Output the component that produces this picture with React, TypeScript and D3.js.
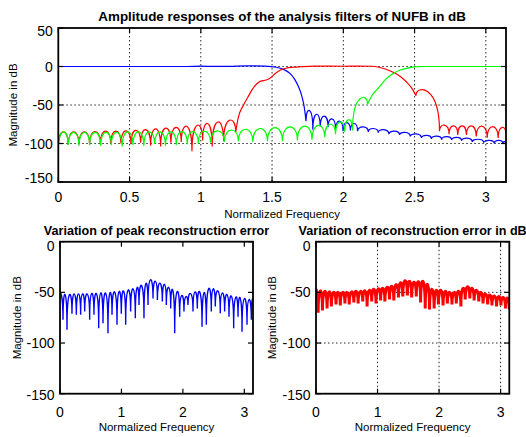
import * as d3 from "d3";

const PI = Math.PI;

// tick values
const topXTicks = [0, 0.5, 1, 1.5, 2, 2.5, 3];
const topYTicks = [50, 0, -50, -100, -150];
const lowXTicks = [0, 1, 2, 3];
const lowYTicks = [0, -50, -100, -150];

// green filter: stopband lobes (nulls + lobe tops), then passband
const greenStopF = [0, 0.07, 0.145, 0.22, 0.297, 0.372, 0.448, 0.524, 0.6, 0.676, 0.752, 0.828, 0.905, 0.982, 1.068, 1.165, 1.264, 1.365, 1.468, 1.573, 1.678, 1.78, 1.87, 1.945, 2.01, 2.065, 2.17];
const greenStopDb = [-105, -102, -103, -102, -103, -102, -104, -102, -103, -101, -103, -102, -101, -100, -99, -98, -97, -98, -97, -97, -96, -95, -92, -88, -85, -83, -49];
const greenStopTop = [-85, -85.5, -85.5, -85.5, -85.5, -85.5, -85, -85, -85, -85, -85, -84.5, -84.5, -84, -83.5, -82.5, -81.5, -80.5, -79.5, -78.5, -77.5, -76.5, -75, -72, -69, -40];
const greenPassF = [2.17, 2.2, 2.25, 2.3, 2.35, 2.4, 2.45, 2.5, 2.56, 2.8, PI];
const greenPassDb = [-49, -38, -27, -16, -9, -4.5, -2, -0.6, 0, 0, 0];

// red filter: lower stopband, passband, upper stopband
const redStopF = [0, 0.07, 0.145, 0.22, 0.295, 0.368, 0.44, 0.51, 0.578, 0.648, 0.718, 0.79, 0.863, 0.938, 1.013, 1.08, 1.16, 1.245];
const redStopDb = [-105, -102, -101, -101, -100, -100, -100, -101, -99, -103, -104, -99, -98, -110, -96, -104, -97, -85];
const redStopTop = [-85, -85, -85, -84.5, -84, -84, -83.5, -83, -82, -81, -80, -79, -77.5, -76, -74, -72, -69.5];
const redBandF = [1.245, 1.262, 1.3, 1.33, 1.36, 1.39, 1.42, 1.46, 1.49, 1.52, 1.56, 1.6, 1.65, 1.7, 1.8, 1.9, 2.0, 2.1, 2.2, 2.25, 2.3, 2.35, 2.4, 2.44, 2.48, 2.51];
const redBandDb = [-85, -67, -50, -40, -30, -23, -19, -17.5, -14.5, -9.5, -4.5, -2.2, -1, -0.3, 0.6, 0.4, 0.3, 0.6, 0.3, -1, -3.5, -7.5, -13, -19.5, -28, -38];
const redTailF = [2.51, 2.675, 2.742, 2.803, 2.864, 2.933, 3.01, 3.087, PI];
const redTailDb = [-38, -84, -88, -89, -89, -91, -92.5, -93, -87];
const redTailTop = [-30, -76, -77, -77, -77, -77.5, -78, -79];

// blue filter: passband then stopband lobes
const bluePassF = [0, 0.5, 0.9, 1.0, 1.1, 1.2, 1.32, 1.45, 1.53, 1.58, 1.625, 1.66, 1.685, 1.705, 1.72, 1.73, 1.738];
const bluePassDb = [0, 0, 0, 0.4, 0.1, 0.2, 0.8, 0.4, -1, -3.7, -9, -17, -26, -36, -47, -58, -71];
const blueStopF = [1.738, 1.786, 1.838, 1.893, 1.946, 1.998, 2.05, 2.1, 2.175, 2.245, 2.32, 2.395, 2.47, 2.548, 2.618, 2.69, 2.76, 2.83, 2.905, 2.985, 3.06, 3.12, PI];
const blueStopDb = [-71, -82, -78, -79, -82, -84, -83, -84, -85, -86, -88, -89, -91, -93, -94, -95, -95.5, -96.5, -98, -99, -100, -100, -101];
const blueStopTop = [-57, -62, -64.5, -68, -71, -73, -74, -78.5, -80.5, -82, -84, -85.5, -87.5, -89.5, -90.5, -91, -92, -93, -94.5, -96, -96, -97.5];

// peak reconstruction error: dips and the tops between them
const peakErrF = [0, 0.049, 0.114, 0.195, 0.266, 0.336, 0.402, 0.483, 0.553, 0.63, 0.7, 0.781, 0.847, 0.928, 0.998, 1.069, 1.15, 1.226, 1.286, 1.367, 1.433, 1.514, 1.585, 1.666, 1.731, 1.802, 1.867, 1.948, 2.018, 2.083, 2.165, 2.235, 2.312, 2.382, 2.463, 2.528, 2.609, 2.68, 2.751, 2.827, 2.898, 2.963, 3.044, 3.114, PI];
const peakErrDb = [-50, -77, -87, -71, -72, -72, -69, -77, -72, -85.5, -80.5, -90.4, -72, -82, -71, -82, -69, -75.6, -62.5, -75.6, -62.5, -56, -57.5, -59, -62.5, -66, -90.4, -74, -69, -62.5, -69, -66, -84, -82, -69, -64, -70.7, -69, -74, -85.5, -74, -88.8, -82, -77, -57];
const peakErrTop = [-50, -52, -52, -51.5, -51.5, -51.5, -51.5, -51, -51, -50.5, -50.5, -50, -49.5, -49, -48.5, -47.5, -46.5, -45, -43, -41, -37.5, -39, -41, -42, -45, -47, -49, -53, -54, -51, -49.5, -49, -50, -46, -46.5, -48.5, -50.5, -52, -53.5, -54.5, -55, -56, -57, -56];

// reconstruction error
const recErrF = [0, 0.035, 0.105, 0.18, 0.25, 0.325, 0.395, 0.47, 0.54, 0.615, 0.685, 0.76, 0.83, 0.905, 0.975, 1.05, 1.12, 1.195, 1.265, 1.34, 1.41, 1.485, 1.555, 1.63, 1.7, 1.775, 1.845, 1.92, 1.99, 2.065, 2.135, 2.21, 2.28, 2.355, 2.425, 2.5, 2.57, 2.645, 2.715, 2.79, 2.86, 2.935, 3.005, 3.08, PI];
const recErrDb = [-47, -70, -68, -66, -64, -62, -63, -61, -62, -60, -61, -59, -64, -59, -61, -58, -59, -57, -58, -55, -54, -53, -55, -54, -60, -66, -67, -66, -62, -63, -61, -62, -61, -64, -57, -56, -58, -59, -61, -62, -63, -64, -63, -66, -67];
const recErrTop = [-47, -48.5, -49, -49.5, -50, -50, -50, -50, -49.5, -49, -49, -48.5, -48, -47, -46.5, -46, -45, -44, -42.5, -40.5, -38.5, -39, -40, -39.5, -39, -42, -47, -48, -48, -49, -50, -50, -49, -46, -44.5, -46, -48, -50, -51.5, -52.5, -53.5, -54, -55, -55.5];

type Scale = d3.ScaleLinear<number, number>;
type Box = { l: number; r: number; t: number; b: number };

const FONT = "'Liberation Sans', Arial, Helvetica, sans-serif";

// control height so that the arch between two nulls reaches the lobe top
function archCtrl(y0: number, y1: number, yp: number) {
  const low = Math.min(y0, y1);
  if (yp >= low) return low;
  const minB = (c: number) => {
    let m = Infinity;
    for (let k = 0; k <= 40; k++) {
      const t = k / 40;
      const v = (1 - t) ** 3 * y0 + 3 * t * (1 - t) * c + t ** 3 * y1;
      if (v < m) m = v;
    }
    return m;
  };
  let lo = (yp - (y0 + y1) / 8) / 0.75 - 10;
  let hi = low;
  for (let it = 0; it < 40; it++) {
    const mid = (lo + hi) / 2;
    if (minB(mid) < yp) lo = mid;
    else hi = mid;
  }
  return (lo + hi) / 2;
}

function lobePath(x: Scale, y: Scale, F: number[], D: number[], T: number[]) {
  const p = d3.path();
  p.moveTo(x(F[0]), y(D[0]));
  T.forEach((top, i) => {
    const x0 = x(F[i]), y0 = y(D[i]);
    const x1 = x(F[i + 1]), y1 = y(D[i + 1]);
    const yc = archCtrl(y0, y1, y(top));
    p.bezierCurveTo(x0, yc, x1, yc, x1, y1);
  });
  return p.toString();
}

function smoothPath(x: Scale, y: Scale, F: number[], D: number[]) {
  return (
    d3
      .line<number>()
      .x((i) => x(F[i]))
      .y((i) => y(D[i]))
      .curve(d3.curveMonotoneX)(d3.range(F.length)) || ""
  );
}

type PanelProps = {
  id: string;
  box: Box;
  x: Scale;
  y: Scale;
  xTicks: number[];
  yTicks: number[];
  grid: boolean;
  title: string;
  titleSize: number;
  titleY: number;
  xTickY: number;
  xLabelY: number;
  yLabelX: number;
  yNudge: number[];
  children: any;
};

function Panel(p: PanelProps) {
  const { box, x, y } = p;
  const cx = (box.l + box.r) / 2;
  const cy = (box.t + box.b) / 2;
  return (
    <g>
      <defs>
        <clipPath id={p.id}>
          <rect x={box.l} y={box.t} width={box.r - box.l} height={box.b - box.t} />
        </clipPath>
      </defs>
      {p.grid &&
        p.xTicks
          .filter((t) => t > 0)
          .map((t) => (
            <line key={"gx" + t} x1={x(t)} x2={x(t)} y1={box.t} y2={box.b} stroke="#2a2a2a" strokeWidth={1} strokeDasharray="1.5,2.5" />
          ))}
      {p.grid &&
        p.yTicks
          .filter((t, i) => i > 0 && i < p.yTicks.length - 1)
          .map((t) => (
            <line key={"gy" + t} x1={box.l} x2={box.r} y1={y(t)} y2={y(t)} stroke="#2a2a2a" strokeWidth={1} strokeDasharray="1.5,2.5" />
          ))}
      <g clipPath={`url(#${p.id})`}>{p.children}</g>
      {p.xTicks.map((t) => (
        <g key={"tx" + t} stroke="#000" strokeWidth={1.2}>
          <line x1={x(t)} x2={x(t)} y1={box.b} y2={box.b - 5} />
          <line x1={x(t)} x2={x(t)} y1={box.t} y2={box.t + 5} />
        </g>
      ))}
      {p.yTicks.map((t) => (
        <g key={"ty" + t} stroke="#000" strokeWidth={1.2}>
          <line x1={box.l} x2={box.l + 5} y1={y(t)} y2={y(t)} />
          <line x1={box.r} x2={box.r - 5} y1={y(t)} y2={y(t)} />
        </g>
      ))}
      <rect x={box.l} y={box.t} width={box.r - box.l} height={box.b - box.t} fill="none" stroke="#000" strokeWidth={1.8} />
      <g fontFamily={FONT} fontSize={14} fill="#000">
        {p.xTicks.map((t) => (
          <text key={"lx" + t} x={x(t)} y={p.xTickY} textAnchor="middle">
            {String(t)}
          </text>
        ))}
        {p.yTicks.map((t, i) => (
          <text key={"ly" + t} x={box.l - 5.5} y={y(t) + p.yNudge[i]} dy="0.36em" textAnchor="end">
            {String(t)}
          </text>
        ))}
      </g>
      <text x={cx} y={p.xLabelY} textAnchor="middle" fontFamily={FONT} fontSize={11.5}>
        Normalized Frequency
      </text>
      <text
        transform={`translate(${p.yLabelX},${cy}) rotate(-90)`}
        textAnchor="middle"
        fontFamily={FONT}
        fontSize={11.5}
      >
        Magnitude in dB
      </text>
      <text x={cx} y={p.titleY} textAnchor="middle" fontFamily={FONT} fontSize={p.titleSize} fontWeight="bold">
        {p.title}
      </text>
    </g>
  );
}

const topBox: Box = { l: 58.3, r: 506, t: 28, b: 182 };
const leftBox: Box = { l: 60, r: 253, t: 241.7, b: 393.7 };
const rightBox: Box = { l: 316, r: 509.3, t: 241.7, b: 393.7 };

export default function App() {
  const tx = d3.scaleLinear().domain([0, PI]).range([topBox.l, topBox.r]);
  const ty = d3.scaleLinear().domain([-150, 50]).range([topBox.b, topBox.t]);
  const lx = d3.scaleLinear().domain([0, PI]).range([leftBox.l, leftBox.r]);
  const ly = d3.scaleLinear().domain([-150, 0]).range([leftBox.b, leftBox.t]);
  const rx = d3.scaleLinear().domain([0, PI]).range([rightBox.l, rightBox.r]);
  const ry = d3.scaleLinear().domain([-150, 0]).range([rightBox.b, rightBox.t]);

  const blue = smoothPath(tx, ty, bluePassF, bluePassDb) + lobePath(tx, ty, blueStopF, blueStopDb, blueStopTop);
  const red =
    lobePath(tx, ty, redStopF, redStopDb, redStopTop) +
    smoothPath(tx, ty, redBandF, redBandDb) +
    lobePath(tx, ty, redTailF, redTailDb, redTailTop);
  const green = lobePath(tx, ty, greenStopF, greenStopDb, greenStopTop) + smoothPath(tx, ty, greenPassF, greenPassDb);
  const peakErr = lobePath(lx, ly, peakErrF, peakErrDb, peakErrTop);
  const recErr = lobePath(rx, ry, recErrF, recErrDb, recErrTop);

  return (
    <svg
      width={526}
      height={437}
      viewBox="0 0 526 437"
      style={{ position: "absolute", left: 0, top: 0, background: "#fff" }}
    >
      <rect width={526} height={437} fill="#fff" />
      <Panel
        id="clipTop"
        box={topBox}
        x={tx}
        y={ty}
        xTicks={topXTicks}
        yTicks={topYTicks}
        grid={true}
        title="Amplitude responses of the analysis filters of NUFB in dB"
        titleSize={13.4}
        titleY={21}
        xTickY={202}
        xLabelY={218}
        yLabelX={17}
        yNudge={[3, 0, 0, 0, -4]}
      >
        <path d={blue} fill="none" stroke="#0000ff" strokeWidth={1.2} />
        <path d={red} fill="none" stroke="#ff0000" strokeWidth={1.2} />
        <path d={green} fill="none" stroke="#00ff00" strokeWidth={1.2} />
      </Panel>
      <Panel
        id="clipLeft"
        box={leftBox}
        x={lx}
        y={ly}
        xTicks={lowXTicks}
        yTicks={lowYTicks}
        grid={false}
        title="Variation of peak reconstruction error"
        titleSize={12.6}
        titleY={234.5}
        xTickY={416.5}
        xLabelY={431}
        yLabelX={20.5}
        yNudge={[4, 0, 0, 1]}
      >
        <path d={peakErr} fill="none" stroke="#0000ff" strokeWidth={1.4} />
      </Panel>
      <Panel
        id="clipRight"
        box={rightBox}
        x={rx}
        y={ry}
        xTicks={lowXTicks}
        yTicks={lowYTicks}
        grid={true}
        title="Variation of reconstruction error in dB"
        titleSize={12.6}
        titleY={234.5}
        xTickY={416.5}
        xLabelY={431}
        yLabelX={276}
        yNudge={[4, 0, 0, 1]}
      >
        <path d={recErr} fill="none" stroke="#ff0000" strokeWidth={3} />
      </Panel>
    </svg>
  );
}
